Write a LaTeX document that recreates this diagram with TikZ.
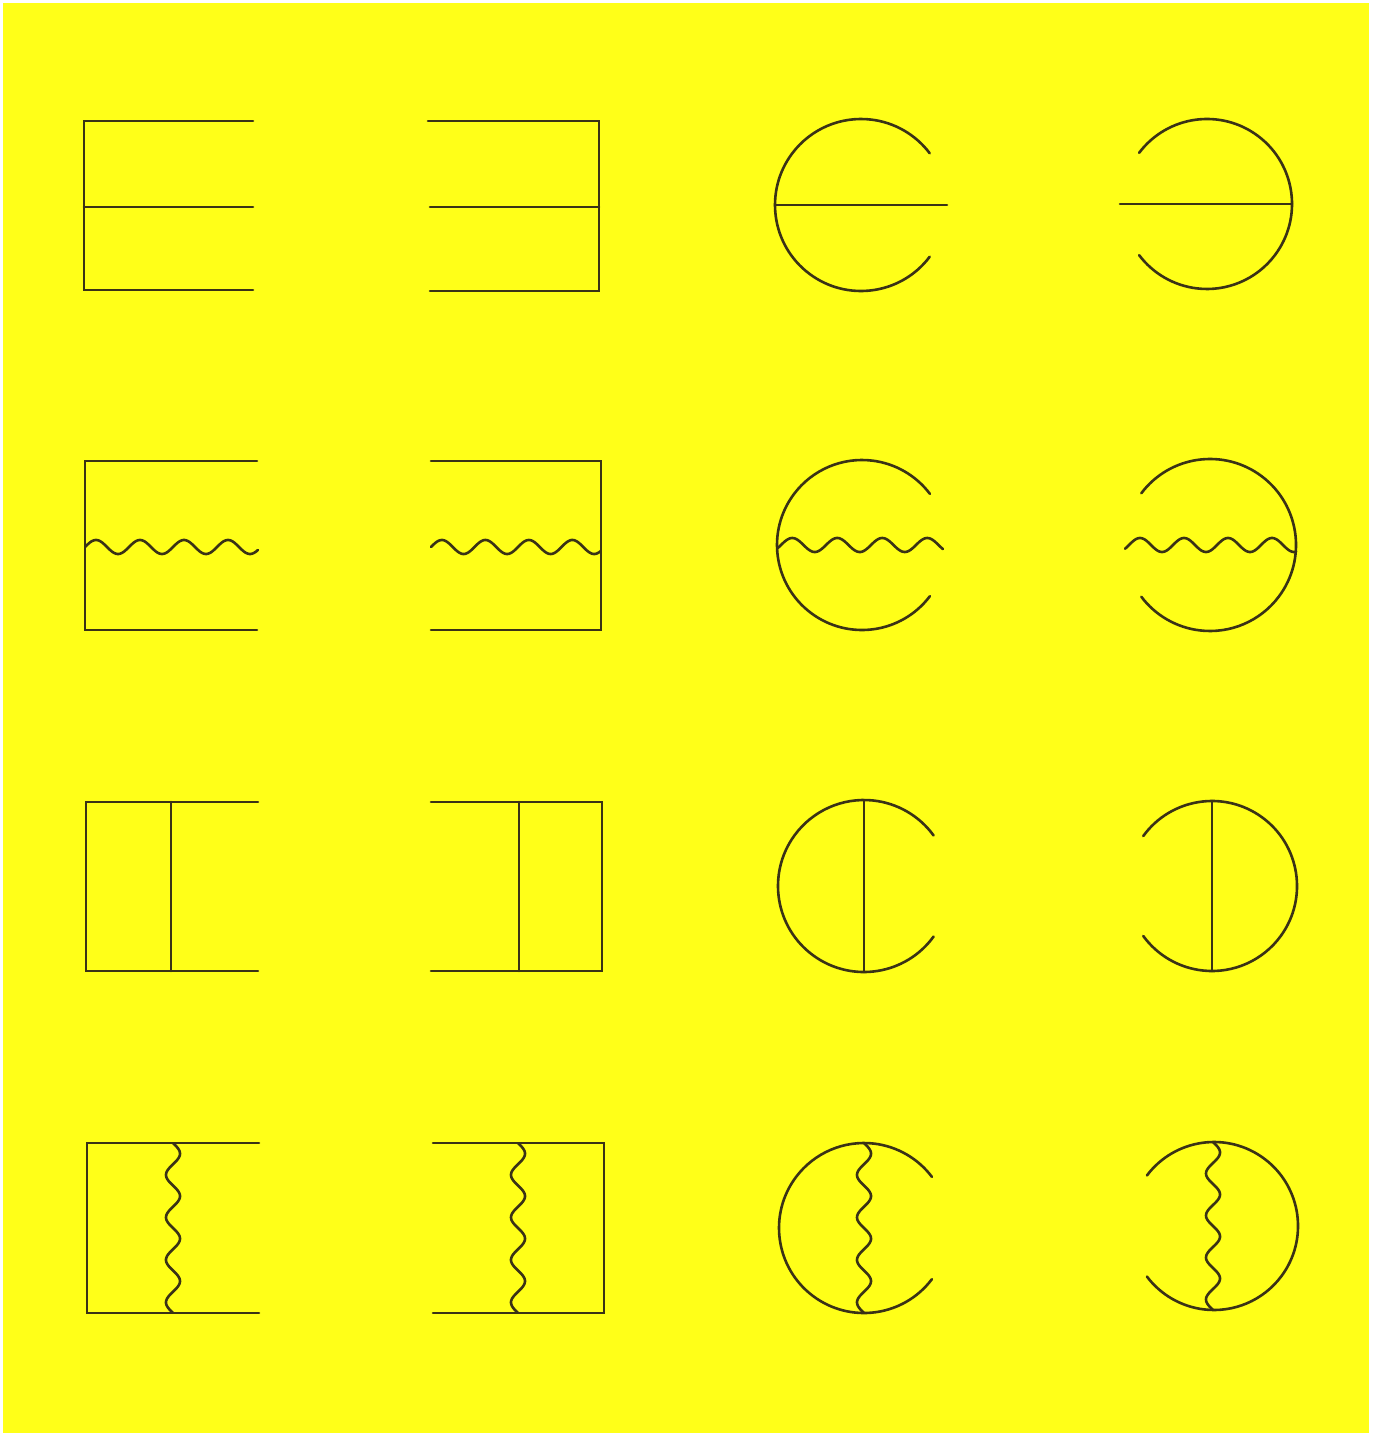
\documentclass[tikz,border=0pt]{standalone}
\definecolor{ink}{RGB}{58,50,22}
\definecolor{paper}{RGB}{255,255,24}
\begin{document}
\begin{tikzpicture}[x=0.5pt,y=-0.5pt,
  ln/.style={draw=ink, line width=1.3pt, line cap=round, line join=miter},
  wv/.style={ln, smooth, samples=140}]
\useasboundingbox (0,0) rectangle (1375,1433);
\fill[white] (0,0) rectangle (1375,1433);
\fill[paper] (3,3) rectangle (1369,1433);
% ---------- Row 1 ----------
\draw[ln] (253,121) -- (84,121) -- (84,290) -- (253,290);
\draw[ln] (84,207) -- (253,207);
\draw[ln] (428,121) -- (599,121) -- (599,291) -- (430,291);
\draw[ln] (430,207) -- (599,207);
\draw[ln] ([shift={(37:86)}]861,205) arc[start angle=37,end angle=323,radius=86];
\draw[ln] (775,205) -- (947,205);
\draw[ln] ([shift={(-143:85)}]1207,204) arc[start angle=-143,end angle=143,radius=85];
\draw[ln] (1120,204) -- (1292,204);
% ---------- Row 2 ----------
\draw[ln] (257,461) -- (85,461) -- (85,630) -- (257,630);
\draw[wv] plot[domain=0:3.932] ({85+44*\x},{547-7*sin(360*\x)});
\draw[ln] (431,461) -- (601,461) -- (601,630) -- (431,630);
\draw[wv] plot[domain=0:3.908] ({431+43.5*\x},{547-7*sin(360*\x)});
\draw[ln] ([shift={(37:85)}]862,545) arc[start angle=37,end angle=323,radius=85];
\draw[wv] plot[domain=-0.089:3.6] ({781+45*\x},{545-7*sin(360*\x)});
\draw[ln] ([shift={(-143:86)}]1210,545) arc[start angle=-143,end angle=143,radius=86];
\draw[wv] plot[domain=-0.091:3.795] ({1129+44*\x},{545-7*sin(360*\x)});
% ---------- Row 3 ----------
\draw[ln] (258,802) -- (86,802) -- (86,971) -- (258,971);
\draw[ln] (171,802) -- (171,971);
\draw[ln] (431,802) -- (602,802) -- (602,971) -- (431,971);
\draw[ln] (519,802) -- (519,971);
\draw[ln] ([shift={(36:86)}]864,886) arc[start angle=36,end angle=324,radius=86];
\draw[ln] (864,800) -- (864,972);
\draw[ln] ([shift={(-144:85)}]1212,886) arc[start angle=-144,end angle=144,radius=85];
\draw[ln] (1212,801) -- (1212,971);
% ---------- Row 4 ----------
\draw[ln] (259,1143) -- (87,1143) -- (87,1313) -- (259,1313);
\draw[wv] plot[domain=0:4] ({173+7*sin(360*\x)},{1143+42.5*\x});
\draw[ln] (433,1143) -- (604,1143) -- (604,1313) -- (433,1313);
\draw[wv] plot[domain=0:4] ({518+7*sin(360*\x)},{1143+42.5*\x});
\draw[ln] ([shift={(37:85)}]864,1228) arc[start angle=37,end angle=323,radius=85];
\draw[wv] plot[domain=0:4] ({864+7*sin(360*\x)},{1143+42.5*\x});
\draw[ln] ([shift={(-143:84)}]1214,1226) arc[start angle=-143,end angle=143,radius=84];
\draw[wv] plot[domain=0:4] ({1213+7*sin(360*\x)},{1142+42*\x});
\end{tikzpicture}
\end{document}
